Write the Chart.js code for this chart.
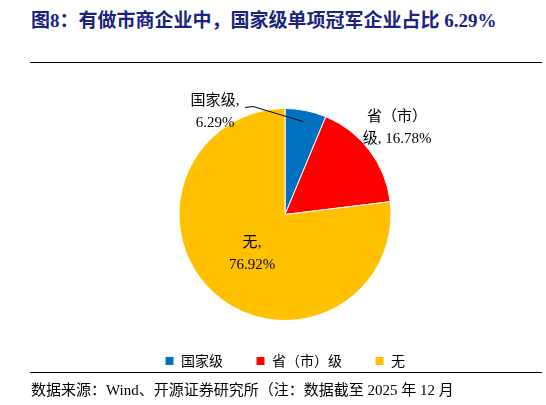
<!DOCTYPE html>
<html><head><meta charset="utf-8">
<script src="https://cdn.jsdelivr.net/npm/chart.js@4"></script>
<style>
body{margin:0;width:546px;height:405px;background:#fff;font-family:"Noto Sans CJK SC","Liberation Serif",serif;position:relative;overflow:hidden}
#title{position:absolute;left:31px;top:5px;font-size:19px;font-weight:bold;color:#1a237e;white-space:nowrap;font-family:"Liberation Serif","Noto Sans CJK SC",serif}
.rule{position:absolute;left:30px;width:512px;height:1px;background:#000}
#src{position:absolute;left:31px;top:378px;font-size:15px;white-space:nowrap;font-family:"Liberation Serif","Noto Sans CJK SC",serif}
#wrap{position:absolute;left:0;top:65px;width:546px;height:313px}
</style></head><body>
<div id="title">图8：有做市商企业中，国家级单项冠军企业占比 6.29%</div>
<div class="rule" style="top:62px"></div>
<div id="wrap"><canvas id="c"></canvas></div>
<div class="rule" style="top:372px"></div>
<div id="src">数据来源：Wind、开源证券研究所（注：数据截至 2025 年 12 月</div>
<script>
const categories=["国家级","省（市）级","无"];
const values=[6.29,16.78,76.92];
const colors=["#0070C0","#FF0000","#FFC000"];
const labelText=[["国家级,","6.29%"],["省（市）","级, 16.78%"],["无,","76.92%"]];
const labelPlugin={id:"lbl",afterDraw(ch){
  const ctx=ch.ctx;const a=ch.getDatasetMeta(0).data;const cx=a[0].x,cy=a[0].y;
  ctx.save();ctx.font='15px "Liberation Serif","Noto Sans CJK SC",serif';ctx.fillStyle="#000";ctx.textAlign="center";ctx.textBaseline="middle";
  const pos=[[-70,-113],[112,-97],[-33,29]];
  labelText.forEach((t,i)=>{ctx.fillText(t[0],cx+pos[i][0],cy+pos[i][1]);ctx.fillText(t[1],cx+pos[i][0],cy+pos[i][1]+22);});
  ctx.strokeStyle="#000";ctx.lineWidth=1;ctx.beginPath();ctx.moveTo(cx-40,cy-107);ctx.lineTo(cx-32,cy-108);ctx.lineTo(cx+18,cy-93);ctx.stroke();
  ctx.restore();}};
new Chart(document.getElementById("c"),{type:"pie",
 data:{labels:categories,datasets:[{data:values,backgroundColor:colors,borderColor:"#fff",borderWidth:1}]},
 options:{responsive:true,maintainAspectRatio:false,animation:false,
  layout:{padding:{top:43,bottom:0,left:24,right:0}},
  plugins:{tooltip:{enabled:false},legend:{position:"bottom",labels:{boxWidth:9,boxHeight:9,padding:33,color:"#000",font:{size:14,family:'"Noto Sans CJK SC",serif'}}}}},
 plugins:[labelPlugin]});
</script></body></html>
